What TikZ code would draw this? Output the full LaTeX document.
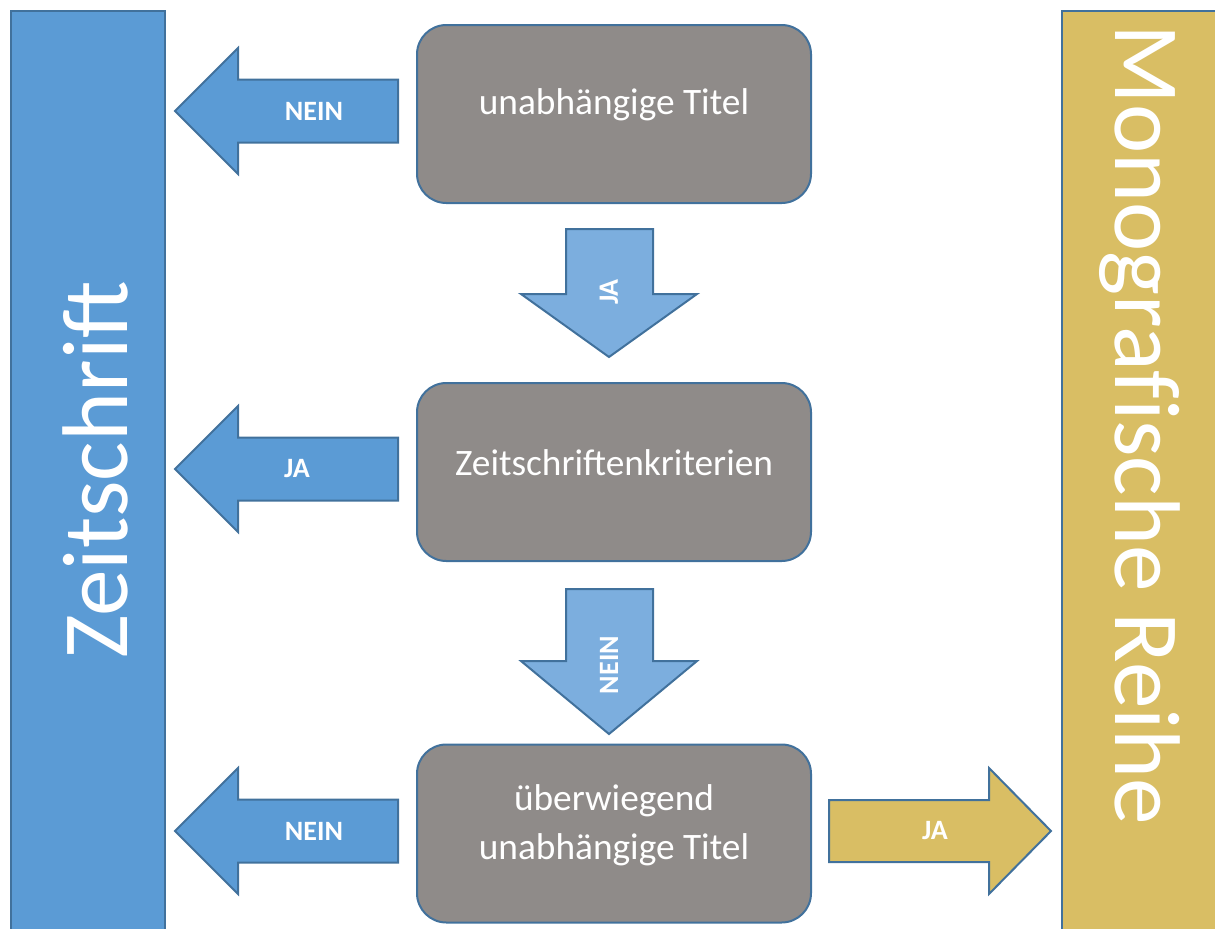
\documentclass[tikz,border=0pt]{standalone}
\usepackage{fontspec}
\setmainfont{Carlito}
\definecolor{barblue}{RGB}{91,155,213}
\definecolor{lightblue}{RGB}{124,174,222}
\definecolor{edgeblue}{RGB}{65,113,156}
\definecolor{gold}{RGB}{217,190,100}
\definecolor{boxgray}{RGB}{143,139,137}
\begin{document}
\begin{tikzpicture}[x=0.75pt,y=-0.75pt,
  bar/.style={draw=edgeblue,line width=1.5pt,anchor=north west,inner sep=0pt},
  decision/.style={draw=edgeblue,line width=1.5pt,fill=boxgray,rounded corners=22pt,
    minimum width=295.5pt,minimum height=133.5pt},
  boxtext/.style={text=white,font=\fontsize{28}{37}\selectfont,align=center,inner sep=0pt},
  arrowshape/.style={draw=edgeblue,line width=1.5pt,line join=miter},
  lbl/.style={text=white,font=\bfseries\fontsize{21}{24}\selectfont,inner sep=0pt},
  bigtext/.style={text=white,font=\fontsize{70}{80}\selectfont,inner sep=0pt}]
\useasboundingbox (0,0) rectangle (1215,929);
\clip (0,0) rectangle (1215,929);
% side bars
\node[bar,fill=barblue,minimum width=115.5pt,minimum height=720pt] (zbar) at (10,10) {};
\node[bar,fill=gold,minimum width=150pt,minimum height=720pt] (mbar) at (1061,10) {};
\node[bigtext,rotate=90] (ztext) at (95,470) {Zeitschrift};
\node[bigtext,rotate=-90] (mtext) at (1140,425) {Monograf\kern0pt ische Reihe};
% decision boxes
\node[decision] (b1) at (614,114) {};
\node[decision] (b2) at (614,472) {};
\node[decision] (b3) at (614,833.5) {};
\node[boxtext] (t1) at ([yshift=7pt]b1.center) {unabhängige Titel};
\node[boxtext] (t2) at ([yshift=7pt]b2.center) {Zeitschriftenkriterien};
\node[boxtext] (t3) at ([yshift=6pt]b3.center) {überwiegend\\unabhängige Titel};
% left arrows
\foreach \y in {111,469,831}{
  \draw[arrowshape,fill=barblue] (398,\y-31.5) -- (238,\y-31.5) -- (238,\y-63) -- (175,\y)
    -- (238,\y+63) -- (238,\y+31.5) -- (398,\y+31.5) -- cycle;
}
\node[lbl] (n1) at (314,111) {NEIN};
\node[lbl] (n2) at (297,469) {JA};
\node[lbl] (n3) at (314,831) {NEIN};
% down arrows
\foreach \t/\h/\p in {229/294/357,589/661/734}{
  \draw[arrowshape,fill=lightblue] (566,\t) -- (653,\t) -- (653,\h) -- (697,\h) -- (609,\p)
    -- (521,\h) -- (566,\h) -- cycle;
}
\node[lbl,rotate=90] (d1) at (609,292) {JA};
\node[lbl,rotate=90] (d2) at (609,665) {NEIN};
% right arrow
\draw[arrowshape,fill=gold] (829,800) -- (989,800) -- (989,768) -- (1051,831) -- (989,894)
  -- (989,862) -- (829,862) -- cycle;
\node[lbl] (r1) at (935,831) {JA};
\end{tikzpicture}
\end{document}
